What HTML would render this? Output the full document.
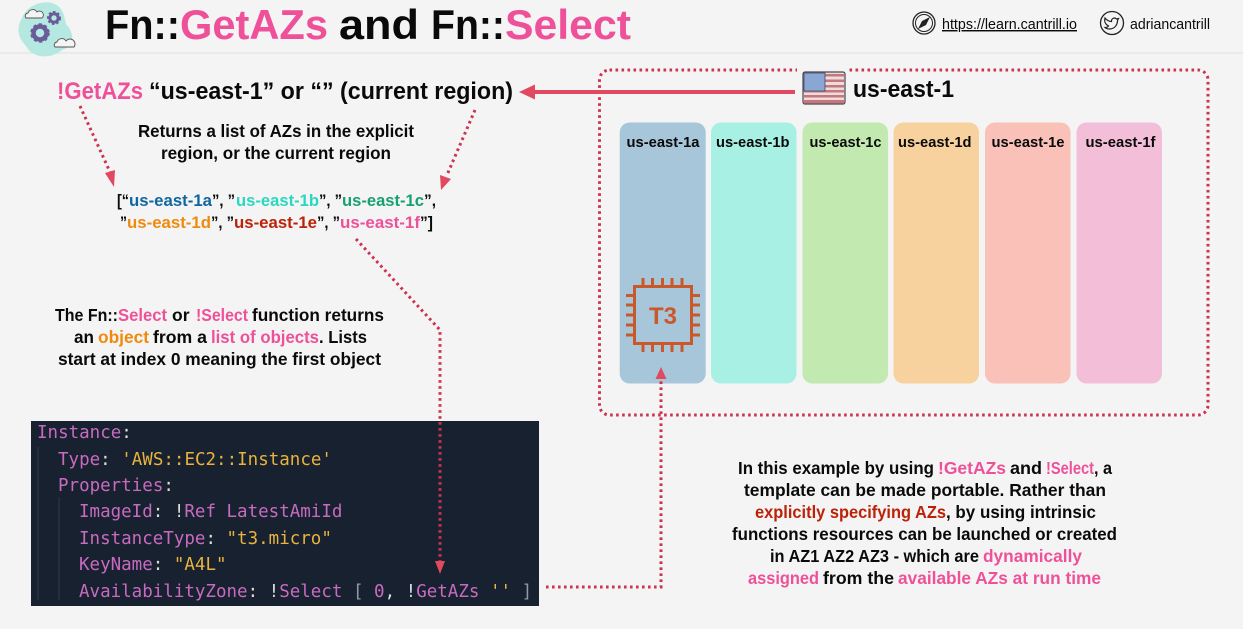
<!DOCTYPE html>
<html><head><meta charset="utf-8"><style>
html,body{margin:0;padding:0;background:#f4f4f4;width:1243px;height:629px;overflow:hidden}
svg{display:block}
text{font-family:"Liberation Sans",sans-serif;font-weight:700;fill:#0a0a0a}
.c text,text.c{font-family:"DejaVu Sans Mono",monospace;font-weight:400;font-size:17.5px}
.d{fill:none;stroke:#c9344f;stroke-width:3;stroke-dasharray:2.6 3.4}
</style></head><body>
<svg width="1243" height="629" viewBox="0 0 1243 629" xmlns="http://www.w3.org/2000/svg">
<rect width="1243" height="629" fill="#f4f4f4"/>
<line x1="0" y1="53" x2="1243" y2="53" stroke="#e6e6e6" stroke-width="1.5"/>

<!-- logo -->
<path d="M22 18C26 6 42 0 52 3C62 6 64 14 66 24C74 32 76 46 62 50C50 60 32 58 26 46C18 38 16 28 22 18Z" fill="#b4e8e0"/>
<circle cx="40" cy="33" r="6.5" fill="none" stroke="#6a5c98" stroke-width="4.5"/><circle cx="40" cy="33" r="8.5" fill="none" stroke="#6a5c98" stroke-width="2.5" stroke-dasharray="3 2.5"/>
<circle cx="54" cy="18" r="4.2" fill="none" stroke="#6a5c98" stroke-width="3"/><circle cx="54" cy="18" r="6" fill="none" stroke="#6a5c98" stroke-width="2" stroke-dasharray="2.5 2"/>
<path d="M26 18a3 3 0 0 1 2-5a5 5 0 0 1 9-1a3.500 3.500 0 0 1 5 6z" fill="#f4f4f4" stroke="#555" stroke-width=".9"/>
<path d="M55 47a3 3 0 0 1 2-5a5 5 0 0 1 9-1a4 4 0 0 1 8 6z" fill="#f4f4f4" stroke="#555" stroke-width=".9"/>

<!-- title -->
<g font-size="42">
<text x="105" y="39" textLength="75" lengthAdjust="spacingAndGlyphs">Fn::</text>
<text x="180" y="39" textLength="148" lengthAdjust="spacingAndGlyphs" style="fill:#ee5199">GetAZs</text>
<text x="339" y="39" textLength="80" lengthAdjust="spacingAndGlyphs">and</text>
<text x="431" y="39" textLength="74" lengthAdjust="spacingAndGlyphs">Fn::</text>
<text x="505" y="39" textLength="126" lengthAdjust="spacingAndGlyphs" style="fill:#ee5199">Select</text>
</g>

<!-- header right -->
<circle cx="924" cy="23" r="11" fill="none" stroke="#222" stroke-width="1.3"/><circle cx="924" cy="23" r="8.500" fill="none" stroke="#222" stroke-width="1"/>
<path d="M930 17L926 25L918 29L922 21Z" fill="#222"/>
<text x="942" y="29" font-size="14.5" textLength="135" lengthAdjust="spacingAndGlyphs" style="font-weight:400" text-decoration="underline">https://learn.cantrill.io</text>
<circle cx="1112" cy="23" r="11.500" fill="none" stroke="#222" stroke-width="1.3"/>
<path d="M1105 18c2 2.500 4 3.500 6.500 3.500c-.3-3 3-4.500 5-2.500l2-.5l-1 2c0 5-3.500 8.500-8 8.500c-2 0-3.500-.5-4.500-1.500c1.500 0 3-.5 3.500-1.500c-3-1.500-4.500-4.500-3.500-8z" fill="none" stroke="#222" stroke-width="1.2"/>
<text x="1130" y="29" font-size="14.500" textLength="80" lengthAdjust="spacingAndGlyphs" style="font-weight:400">adriancantrill</text>

<!-- region box -->
<rect x="599.500" y="70" width="608.500" height="345" rx="10" class="d"/>
<rect x="797" y="66" width="52" height="10" fill="#f4f4f4"/>
<line x1="795" y1="92" x2="530" y2="92" stroke="#e0495f" stroke-width="4"/>
<path d="M519 92L535 84.500V99.500Z" fill="#e0495f"/>
<!-- flag -->
<rect x="803" y="72" width="42" height="32" rx="2" fill="#ecdcdc" stroke="#4b4650" stroke-width="1.200"/>
<g fill="#c4777c"><rect x="804" y="74" width="40" height="2.500"/><rect x="804" y="79.500" width="40" height="2.500"/><rect x="804" y="85" width="40" height="2.500"/><rect x="804" y="90" width="40" height="2.500"/><rect x="804" y="95" width="40" height="2.500"/><rect x="804" y="100" width="40" height="3.500"/></g>
<rect x="804" y="73" width="21" height="18" fill="#8aa6d2" stroke="#3d4a66" stroke-width=".8"/>
<text x="853" y="97" font-size="24.500" textLength="101" lengthAdjust="spacingAndGlyphs">us-east-1</text>

<!-- AZ columns -->
<rect x="619.700" y="122.500" width="86" height="261" rx="10" fill="#a8c6da"/>
<rect x="711" y="122.500" width="85.500" height="261" rx="10" fill="#a8f0e4"/>
<rect x="802.500" y="122.500" width="85.500" height="261" rx="10" fill="#c2e9b0"/>
<rect x="893.500" y="122.500" width="85.500" height="261" rx="10" fill="#f8d29e"/>
<rect x="985" y="122.500" width="85.500" height="261" rx="10" fill="#f9c1b8"/>
<rect x="1076.500" y="122.500" width="85.500" height="261" rx="10" fill="#f3bfd8"/>
<g font-size="14.500">
<text x="626.500" y="147" textLength="73" lengthAdjust="spacingAndGlyphs">us-east-1a</text>
<text x="716" y="147" textLength="73.500" lengthAdjust="spacingAndGlyphs">us-east-1b</text>
<text x="809.500" y="147" textLength="72" lengthAdjust="spacingAndGlyphs">us-east-1c</text>
<text x="898" y="147" textLength="73.500" lengthAdjust="spacingAndGlyphs">us-east-1d</text>
<text x="991.500" y="147" textLength="73" lengthAdjust="spacingAndGlyphs">us-east-1e</text>
<text x="1085.500" y="147" textLength="70" lengthAdjust="spacingAndGlyphs">us-east-1f</text>
</g>

<!-- T3 chip -->
<g stroke="#c9592a" fill="none" stroke-width="3">
<rect x="634.500" y="286.500" width="57" height="57"/>
<path d="M643 278v8M652.500 278v8M662.500 278v8M672 278v8M682 278v8M643 344v8M652.500 344v8M662.500 344v8M672 344v8M682 344v8M626 295.500h8M626 305h8M626 315h8M626 325h8M626 335h8M692 295.500h8M692 305h8M692 315h8M692 325h8M692 335h8"/>
</g>
<text x="649" y="324" font-size="24" textLength="28" lengthAdjust="spacingAndGlyphs" style="fill:#c9592a">T3</text>

<!-- !GetAZs line -->
<g font-size="24">
<text x="57" y="99" textLength="86" lengthAdjust="spacingAndGlyphs" style="fill:#ee5199">!GetAZs</text>
<text x="149" y="99" textLength="364" lengthAdjust="spacingAndGlyphs">“us-east-1” or “” (current region)</text>
</g>
<g font-size="17.500" text-anchor="middle">
<text x="276" y="137" textLength="276" lengthAdjust="spacingAndGlyphs">Returns a list of AZs in the explicit</text>
<text x="276" y="159" textLength="230" lengthAdjust="spacingAndGlyphs">region, or the current region</text>
</g>

<!-- list -->
<g font-size="16.500">
<text x="117" y="206" textLength="12" lengthAdjust="spacingAndGlyphs">[“</text>
<text x="129" y="206" textLength="83" lengthAdjust="spacingAndGlyphs" style="fill:#10679f">us-east-1a</text>
<text x="212" y="206" textLength="23" lengthAdjust="spacingAndGlyphs">”, ”</text>
<text x="236" y="206" textLength="83" lengthAdjust="spacingAndGlyphs" style="fill:#2ad7c0">us-east-1b</text>
<text x="319" y="206" textLength="23" lengthAdjust="spacingAndGlyphs">”, ”</text>
<text x="342" y="206" textLength="82" lengthAdjust="spacingAndGlyphs" style="fill:#18a070">us-east-1c</text>
<text x="424" y="206" textLength="12" lengthAdjust="spacingAndGlyphs">”,</text>
<text x="120" y="228" textLength="7" lengthAdjust="spacingAndGlyphs">”</text>
<text x="127" y="228" textLength="84" lengthAdjust="spacingAndGlyphs" style="fill:#f08a0c">us-east-1d</text>
<text x="211" y="228" textLength="23" lengthAdjust="spacingAndGlyphs">”, ”</text>
<text x="234" y="228" textLength="83" lengthAdjust="spacingAndGlyphs" style="fill:#bb2208">us-east-1e</text>
<text x="317" y="228" textLength="23" lengthAdjust="spacingAndGlyphs">”, ”</text>
<text x="340" y="228" textLength="80" lengthAdjust="spacingAndGlyphs" style="fill:#ee5199">us-east-1f</text>
<text x="420" y="228" textLength="13" lengthAdjust="spacingAndGlyphs">”]</text>
</g>

<!-- select text -->
<g font-size="17.500">
<text x="55" y="321" textLength="63" lengthAdjust="spacingAndGlyphs">The Fn::</text>
<text x="118" y="321" textLength="49" lengthAdjust="spacingAndGlyphs" style="fill:#ee5199">Select</text>
<text x="172" y="321">or</text>
<text x="196" y="321" textLength="52" lengthAdjust="spacingAndGlyphs" style="fill:#ee5199">!Select</text>
<text x="252" y="321" textLength="132" lengthAdjust="spacingAndGlyphs">function returns</text>
<text x="74" y="343" textLength="20" lengthAdjust="spacingAndGlyphs">an</text>
<text x="98" y="343" textLength="51" lengthAdjust="spacingAndGlyphs" style="fill:#f08a0c">object</text>
<text x="153" y="343" textLength="54" lengthAdjust="spacingAndGlyphs">from a</text>
<text x="211" y="343" textLength="108" lengthAdjust="spacingAndGlyphs" style="fill:#ee5199">list of objects</text>
<text x="319" y="343" textLength="48" lengthAdjust="spacingAndGlyphs">. Lists</text>
<text x="58" y="365" textLength="323" lengthAdjust="spacingAndGlyphs">start at index 0 meaning the first object</text>
</g>

<!-- code -->
<rect x="31" y="421" width="508" height="185" fill="#17212f"/>
<path d="M38 447V600M59 497V600" stroke="#2c3a4a" stroke-width="1"/>
<g class="c" style="font-size:17.500px">
<text x="37" y="438" style="fill:#c86bc0">Instance<tspan style="fill:#ddd">:</tspan></text>
<text x="58" y="465" style="fill:#c86bc0">Type<tspan style="fill:#ddd">: </tspan><tspan style="fill:#e8b33e">'AWS::EC2::Instance'</tspan></text>
<text x="58" y="491" style="fill:#c86bc0">Properties<tspan style="fill:#ddd">:</tspan></text>
<text x="79" y="517" style="fill:#c86bc0">ImageId<tspan style="fill:#ddd">: !</tspan>Ref LatestAmiId</text>
<text x="79" y="544" style="fill:#c86bc0">InstanceType<tspan style="fill:#ddd">: </tspan><tspan style="fill:#e8b33e">"t3.micro"</tspan></text>
<text x="79" y="570" style="fill:#c86bc0">KeyName<tspan style="fill:#ddd">: </tspan><tspan style="fill:#e8b33e">"A4L"</tspan></text>
<text x="79" y="597" style="fill:#c86bc0">AvailabilityZone<tspan style="fill:#ddd">: !</tspan>Select <tspan style="fill:#8f9aa6">[ </tspan>0<tspan style="fill:#ddd">, !</tspan>GetAZs <tspan style="fill:#e8b33e">''</tspan><tspan style="fill:#8f9aa6"> ]</tspan></text>
</g>

<!-- dotted arrows (above the code panel) -->
<path class="d" d="M80 106L110 172"/><path d="M114 187L105 173L115 170Z" fill="#e0495f"/>
<path class="d" d="M475 110L447 175"/><path d="M441 190L440 175L451 179Z" fill="#e0495f"/>
<path class="d" d="M356 239L440 330V562"/><path d="M440 574L435 561H445Z" fill="#e0495f"/>
<path class="d" d="M546 587H661V380"/><path d="M661 367L666.500 379H655.500Z" fill="#e0495f"/>

<!-- bottom right text -->
<g font-size="17.500">
<text x="738" y="474" textLength="196" lengthAdjust="spacingAndGlyphs">In this example by using</text>
<text x="938" y="474" textLength="68" lengthAdjust="spacingAndGlyphs" style="fill:#ee5199">!GetAZs</text>
<text x="1010" y="474" textLength="32" lengthAdjust="spacingAndGlyphs">and</text>
<text x="1046" y="474" textLength="48" lengthAdjust="spacingAndGlyphs" style="fill:#ee5199">!Select</text>
<text x="1094" y="474" textLength="18" lengthAdjust="spacingAndGlyphs">, a</text>
<text x="744" y="496" textLength="362" lengthAdjust="spacingAndGlyphs">template can be made portable. Rather than</text>
<text x="755" y="518" textLength="191" lengthAdjust="spacingAndGlyphs" style="fill:#bb2208">explicitly specifying AZs</text>
<text x="946" y="518" textLength="150" lengthAdjust="spacingAndGlyphs">, by using intrinsic</text>
<text x="732" y="540" textLength="385" lengthAdjust="spacingAndGlyphs">functions resources can be launched or created</text>
<text x="770" y="562" textLength="209" lengthAdjust="spacingAndGlyphs">in AZ1 AZ2 AZ3 - which are</text>
<text x="983" y="562" textLength="99" lengthAdjust="spacingAndGlyphs" style="fill:#ee5199">dynamically</text>
<text x="748" y="584" textLength="71" lengthAdjust="spacingAndGlyphs" style="fill:#ee5199">assigned</text>
<text x="823" y="584" textLength="71" lengthAdjust="spacingAndGlyphs">from the</text>
<text x="898" y="584" textLength="203" lengthAdjust="spacingAndGlyphs" style="fill:#ee5199">available AZs at run time</text>
</g>
</svg>
</body></html>
